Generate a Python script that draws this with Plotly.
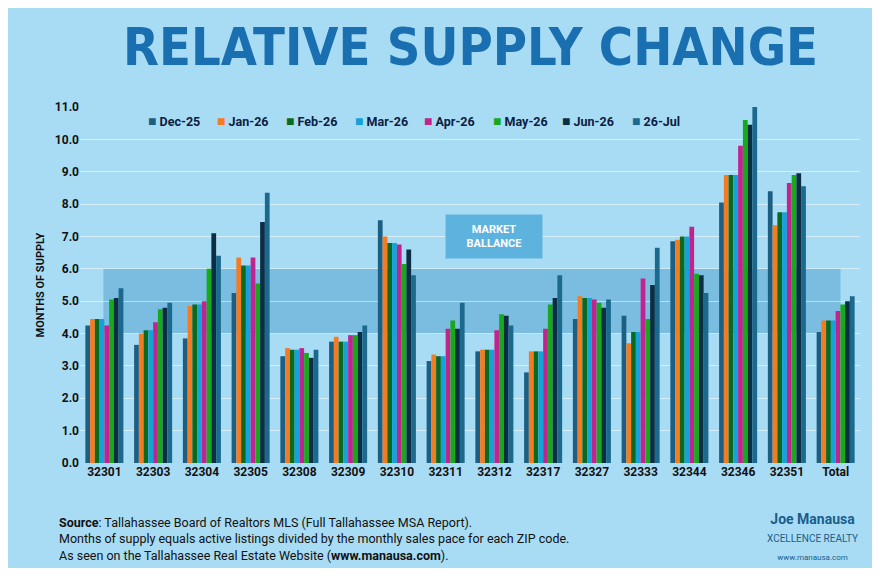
import plotly.graph_objects as go

zips = ["32301","32303","32304","32305","32308","32309","32310","32311","32312","32317","32327","32333","32344","32346","32351","Total"]
series_names = ["Dec-25","Jan-26","Feb-26","Mar-26","Apr-26","May-26","Jun-26","26-Jul"]
dec25 = [4.25,3.65,3.85,5.25,3.3,3.75,7.5,3.15,3.45,2.8,4.45,4.55,6.85,8.05,8.4,4.05]
jan26 = [4.45,4.0,4.85,6.35,3.55,3.9,7.0,3.35,3.5,3.45,5.15,3.7,6.9,8.9,7.35,4.4]
feb26 = [4.45,4.1,4.9,6.1,3.5,3.75,6.8,3.3,3.5,3.45,5.1,4.05,7.0,8.9,7.75,4.4]
mar26 = [4.45,4.1,4.9,6.1,3.5,3.75,6.8,3.3,3.5,3.45,5.1,4.05,7.0,8.9,7.75,4.4]
apr26 = [4.25,4.35,5.0,6.35,3.55,3.95,6.75,4.15,4.1,4.15,5.05,5.7,7.3,9.8,8.65,4.7]
may26 = [5.05,4.75,6.0,5.55,3.4,3.95,6.15,4.4,4.6,4.9,4.95,4.45,5.85,10.6,8.9,4.9]
jun26 = [5.1,4.8,7.1,7.45,3.25,4.05,6.6,4.15,4.55,5.1,4.8,5.5,5.8,10.45,8.95,5.0]
jul26 = [5.4,4.95,6.4,8.35,3.5,4.25,5.8,4.95,4.25,5.8,5.05,6.65,5.25,11.0,8.55,5.15]
values = [dec25,jan26,feb26,mar26,apr26,may26,jun26,jul26]
colors = ["#1d5f82","#f57b20","#0b6a20","#13a2da","#c2248f","#18a81c","#0c2e44","#1b6a8e"]
yticks = [i for i in range(12)]

fig = go.Figure()
for n, v, c in zip(series_names, values, colors):
    fig.add_trace(go.Bar(name=n, x=zips, y=v, marker=dict(color=c, line=dict(width=0))))

fig.add_shape(type="rect", xref="paper", yref="y", x0=0.03, x1=0.975, y0=4, y1=6,
              fillcolor="rgba(40,130,190,0.35)", line=dict(width=0), layer="below")

fig.update_layout(
    width=864, height=560,
    margin=dict(l=72, r=12, t=99, b=105),
    paper_bgcolor="#a8dcf4", plot_bgcolor="rgba(0,0,0,0)",
    barmode="group", bargap=0.22, bargroupgap=0,
    font=dict(family="Roboto", color="#111"),
    showlegend=False,
    xaxis=dict(type="category", tickfont=dict(size=12, color="#111", family="Roboto"), showgrid=False,
               showline=False, ticks="", ticktext=[f"<b>{z}</b>" for z in zips], tickvals=zips),
    yaxis=dict(range=[0, 11.0], tickvals=yticks, ticktext=[f"<b>{t:.1f}</b>" for t in yticks],
               tickfont=dict(size=12, color="#111", family="Roboto"), gridcolor="rgba(255,255,255,0.5)",
               zeroline=False, showline=False,
               title=dict(text="<b>MONTHS OF SUPPLY</b>", font=dict(size=11, color="#111"), standoff=8)),
)

# manual legend (compact, like the reference)
leg_x0, leg_dx = 0.085, 0.0885
for i, (n, c) in enumerate(zip(series_names, colors)):
    fig.add_annotation(xref="paper", yref="paper", x=leg_x0 + i * leg_dx, y=0.962, xanchor="left", yanchor="middle",
                       showarrow=False,
                       text=f"<span style='color:{c};font-size:14px'>■</span> <b>{n}</b>",
                       font=dict(size=12.5, color="#0c2040", family="Roboto"))

fig.add_annotation(xref="paper", yref="paper", x=0.5, y=1.0, yshift=92, xanchor="center", yanchor="top",
                   text="<b>RELATIVE SUPPLY CHANGE</b>", showarrow=False,
                   font=dict(size=52, color="#1a6fb0", family="DejaVu Sans Condensed, Roboto Condensed"))
fig.add_annotation(xref="x", yref="y", x=8, y=7.0, xanchor="center", yanchor="middle",
                   text="<b>MARKET<br>BALLANCE</b>", showarrow=False,
                   bgcolor="#5eb3de", borderpad=8, width=80,
                   font=dict(size=11, color="white"))
fig.add_annotation(xref="paper", yref="paper", x=-0.03, y=-0.14, xanchor="left", yanchor="top", align="left",
                   showarrow=False,
                   text="<b>Source</b>: Tallahassee Board of Realtors MLS (Full Tallahassee MSA Report).<br>"
                        "Months of supply equals active listings divided by the monthly sales pace for each ZIP code.<br>"
                        "As seen on the Tallahassee Real Estate Website (<b>www.manausa.com</b>).",
                   font=dict(size=12.5, color="#111"))
fig.add_annotation(xref="paper", yref="paper", x=1.0, y=-0.13, xanchor="right", yanchor="top", align="center",
                   showarrow=False,
                   text="<b>Joe Manausa</b><br><span style='font-size:10px'>XCELLENCE REALTY</span><br><span style='font-size:8px'>www.manausa.com</span>",
                   font=dict(size=14, color="#1a5e8c"))
fig.write_html("out.html")
